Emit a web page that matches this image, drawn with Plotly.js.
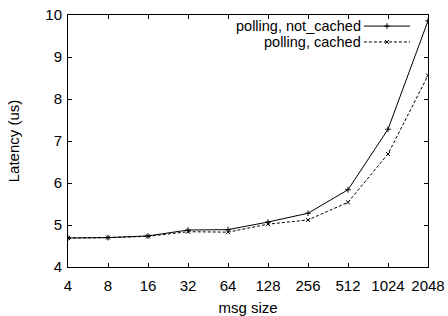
<!DOCTYPE html>
<html>
<head>
<meta charset="utf-8">
<script src="https://cdn.plot.ly/plotly-3.0.1.min.js"></script>
<style>html,body{margin:0;padding:0;background:#fff;}#chart{width:448px;height:316px;}</style>
</head>
<body>
<div id="chart"></div>
<script>
const msgSizes = ["4","8","16","32","64","128","256","512","1024","2048"];
const notCached = [4.69, 4.70, 4.74, 4.88, 4.89, 5.07, 5.28, 5.84, 7.28, 9.86];
const cached = [4.69, 4.70, 4.73, 4.84, 4.83, 5.02, 5.12, 5.54, 6.69, 8.56];
const seriesNames = ["polling, not_cached", "polling, cached"];
const yTicks = [4, 5, 6, 7, 8, 9, 10];

const font = {family: "Liberation Sans, Arial, sans-serif", size: 15, color: "#000"};
const legFont = {family: "Liberation Sans, Arial, sans-serif", size: 14.5, color: "#000"};

const traces = [
  {x: msgSizes, y: notCached, name: seriesNames[0], type: "scatter", mode: "lines+markers",
   line: {color: "#000", width: 1}, marker: {symbol: "cross-thin", size: 4, line: {color: "#000", width: 1}}},
  {x: msgSizes, y: cached, name: seriesNames[1], type: "scatter", mode: "lines+markers",
   line: {color: "#000", width: 1, dash: "3px,2px"}, marker: {symbol: "x-thin", size: 4, line: {color: "#000", width: 1}}}
];

// manual legend (text right-aligned, sample line on the right, like gnuplot)
const legY = [0.956, 0.893];
const annotations = seriesNames.map((n, i) => ({
  xref: "paper", yref: "paper", x: 0.817, y: legY[i], xanchor: "right", yanchor: "middle",
  text: n, showarrow: false, font: legFont, borderpad: 0
}));
const shapes = [];
legY.forEach((yy, i) => {
  shapes.push({type: "line", xref: "paper", yref: "paper", x0: 0.822, x1: 0.95, y0: yy, y1: yy,
    line: {color: "#000", width: 1, dash: i === 0 ? "solid" : "3px,2px"}});
});
const legTraces = legY.map((yy, i) => ({
  x: [0.886], y: [yy], xaxis: "x2", yaxis: "y2", type: "scatter", mode: "markers", showlegend: false,
  hoverinfo: "skip",
  marker: {symbol: i === 0 ? "cross-thin" : "x-thin", size: 4, line: {color: "#000", width: 1}}
}));

const layout = {
  width: 448, height: 316,
  margin: {l: 68, r: 20, t: 15, b: 49},
  paper_bgcolor: "#fff", plot_bgcolor: "#fff",
  font: font,
  showlegend: false,
  xaxis: {
    type: "category", range: [0, 9], categoryorder: "array", categoryarray: msgSizes,
    showgrid: false, zeroline: false, showline: true, linecolor: "#000", linewidth: 1, mirror: "allticks",
    ticks: "inside", ticklen: 4, tickcolor: "#000", tickfont: font, ticklabelstandoff: 5,
    title: {text: "msg size", font: font, standoff: 12}
  },
  yaxis: {
    range: [4, 10], tickvals: yTicks, ticktext: yTicks.map(String),
    showgrid: false, zeroline: false, showline: true, linecolor: "#000", linewidth: 1, mirror: "allticks",
    ticks: "inside", ticklen: 4, tickcolor: "#000", tickfont: font, ticklabelstandoff: 2,
    title: {text: "Latency (us)", font: font, standoff: 22}
  },
  xaxis2: {overlaying: "x", range: [0, 1], visible: false, fixedrange: true},
  yaxis2: {overlaying: "y", range: [0, 1], visible: false, fixedrange: true},
  annotations: annotations,
  shapes: shapes
};

Plotly.newPlot("chart", traces.concat(legTraces), layout, {displayModeBar: false, staticPlot: true});
</script>
</body>
</html>
